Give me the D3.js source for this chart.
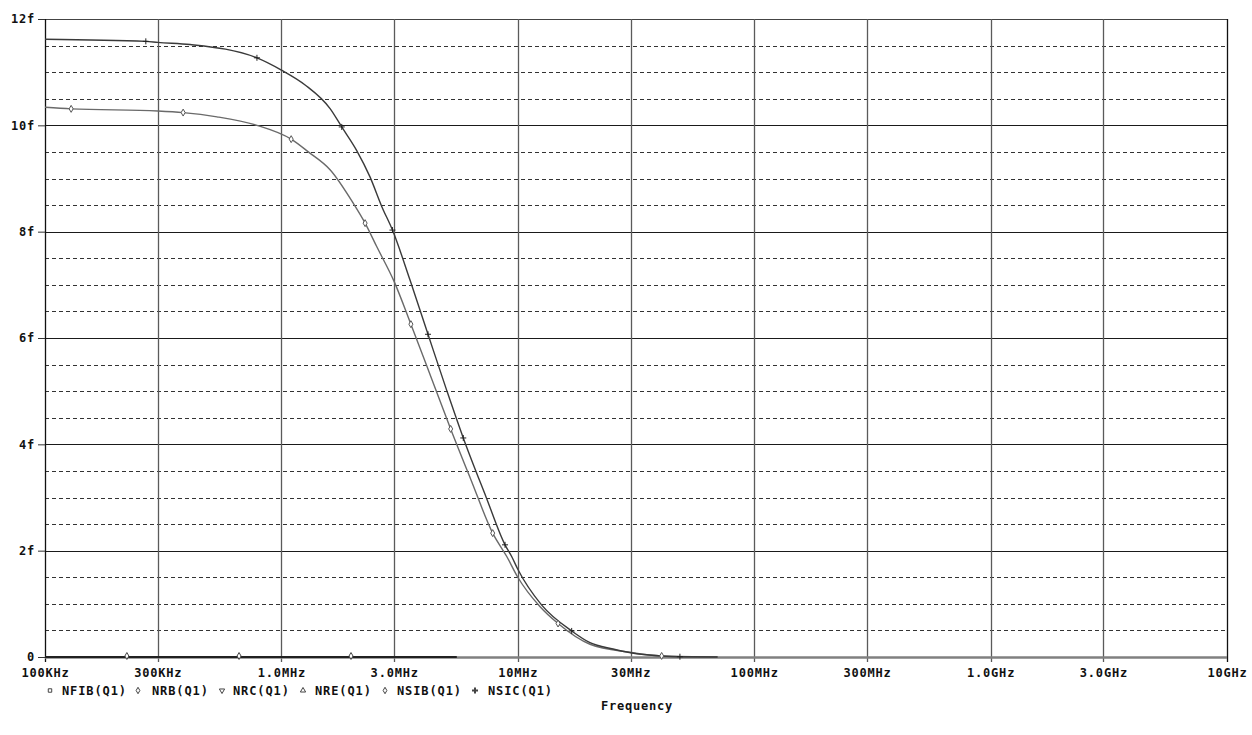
<!DOCTYPE html>
<html>
<head>
<meta charset="utf-8">
<script src="https://cdn.jsdelivr.net/npm/d3@7"></script>
<style>
  body { margin: 0; background: #fff; }
  text { font-family: "DejaVu Sans Mono", "Liberation Mono", monospace; font-weight: bold; fill: #111; }
</style>
</head>
<body>
<div id="chart"></div>
<script>
// axis ticks and labels
let xTicks = [1e5, 3e5, 1e6, 3e6, 1e7, 3e7, 1e8, 3e8, 1e9, 3e9, 1e10];
let xTickLabels = ["100KHz", "300KHz", "1.0MHz", "3.0MHz", "10MHz", "30MHz", "100MHz", "300MHz", "1.0GHz", "3.0GHz", "10GHz"];
let yTicks = [0, 2, 4, 6, 8, 10, 12];
let yTickLabels = ["0", "2f", "4f", "6f", "8f", "10f", "12f"];
let yMinorTicks = [0.5, 1, 1.5, 2.5, 3, 3.5, 4.5, 5, 5.5, 6.5, 7, 7.5, 8.5, 9, 9.5, 10.5, 11, 11.5];

// NSIC(Q1) trace (values in f)
let nsicFreq = [1e5, 2.67e5, 3e5, 4.11e5, 7.88e5, 1e6, 1.26e6, 1.61e6, 1.80e6, 2.08e6, 2.37e6, 2.66e6, 2.95e6, 3.5e6, 4.17e6,
  5.0e6, 5.88e6, 7.34e6, 8.83e6, 9.42e6, 1e7, 1.26e7, 1.69e7, 2.02e7, 2.53e7, 3e7, 4.06e7, 4.85e7, 7e7];
let nsicValues = [11.62, 11.58, 11.56, 11.52, 11.27, 11.04, 10.76, 10.31, 9.97, 9.53, 9.03, 8.47, 8.03, 7.09, 6.07,
  5.02, 4.12, 3.01, 2.11, 1.89, 1.65, 0.98, 0.49, 0.27, 0.15, 0.08, 0.02, 0.005, 0];
let nsicMarks = [1, 4, 8, 12, 14, 16, 18, 22, 27];

// NSIB(Q1) trace
let nsibFreq = [1e5, 1.29e5, 3e5, 3.84e5, 5.34e5, 7.88e5, 1.10e6, 1.30e6, 1.61e6, 2.01e6, 2.26e6, 2.53e6, 3e6, 3.53e6,
  4.34e6, 5.20e6, 6.34e6, 7.83e6, 8.98e6, 1e7, 1.24e7, 1.48e7, 2.02e7, 2.98e7, 4.06e7, 7e7];
let nsibValues = [10.34, 10.31, 10.27, 10.24, 10.16, 10.0, 9.74, 9.50, 9.16, 8.54, 8.16, 7.72, 7.06, 6.26,
  5.21, 4.29, 3.33, 2.33, 1.89, 1.50, 0.95, 0.63, 0.24, 0.09, 0.02, 0];
let nsibMarks = [1, 3, 6, 10, 13, 15, 17, 21, 24];

// the four traces sitting on zero
let zeroFreq = [1e5, 2.22e5, 6.62e5, 1.97e6, 5.5e6];
let nfibValues = [0, 0, 0, 0, 0];
let nrbValues = [0, 0, 0, 0, 0];
let nrcValues = [0, 0, 0, 0, 0];
let nreValues = [0, 0, 0, 0, 0];
let zeroMarks = [1, 2, 3];

let legendNames = ["NFIB(Q1)", "NRB(Q1)", "NRC(Q1)", "NRE(Q1)", "NSIB(Q1)", "NSIC(Q1)"];

// overall size
let svgWidth = 1252;
let svgHeight = 735;
let margin = { top: 19, right: 25, bottom: 78, left: 45 };
let width = svgWidth - margin.left - margin.right;
let height = svgHeight - margin.top - margin.bottom;

let svg = d3.select("#chart")
  .append("svg")
  .attr("width", svgWidth)
  .attr("height", svgHeight);

let chartGroup = svg.append("g")
  .attr("transform", `translate(${margin.left}, ${margin.top})`);

let xScale = d3.scaleLog().domain([1e5, 1e10]).range([0, width]);
let yScale = d3.scaleLinear().domain([0, 12]).range([height, 0]);

// dashed minor grid
chartGroup.selectAll(".minor")
  .data(yMinorTicks)
  .enter()
  .append("line")
  .attr("x1", 0).attr("x2", width)
  .attr("y1", d => Math.round(yScale(d)) + 0.5)
  .attr("y2", d => Math.round(yScale(d)) + 0.5)
  .attr("stroke", "#333")
  .attr("stroke-dasharray", "4,3");

// solid horizontal grid
chartGroup.selectAll(".hmajor")
  .data(yTicks)
  .enter()
  .append("line")
  .attr("x1", 0).attr("x2", width)
  .attr("y1", d => Math.round(yScale(d)) + 0.5)
  .attr("y2", d => Math.round(yScale(d)) + 0.5)
  .attr("stroke", (d, i) => i == yTicks.length - 1 ? "#444" : "#1a1a1a")
  .attr("stroke-width", 1.2);

// vertical grid
chartGroup.selectAll(".vmajor")
  .data(xTicks)
  .enter()
  .append("line")
  .attr("x1", d => Math.round(xScale(d)) + 0.5)
  .attr("x2", d => Math.round(xScale(d)) + 0.5)
  .attr("y1", 0).attr("y2", height + 5)
  .attr("stroke", (d, i) => (i == 0 || i == xTicks.length - 1) ? "#111" : "#5a5a5a")
  .attr("stroke-width", 1.3);

// bottom axis line
chartGroup.append("line")
  .attr("x1", 0).attr("x2", width)
  .attr("y1", height + 0.5).attr("y2", height + 0.5)
  .attr("stroke", "#808080")
  .attr("stroke-width", 2.5);

// x tick labels
let bottomAxis = d3.axisBottom(xScale)
  .tickValues(xTicks)
  .tickFormat((d, i) => xTickLabels[i])
  .tickSize(0)
  .tickPadding(11);
let xAxis = chartGroup.append("g")
  .attr("transform", `translate(0,${height})`)
  .call(bottomAxis);
xAxis.select(".domain").remove();
xAxis.selectAll("text")
  .attr("font-size", "12px")
  .attr("letter-spacing", "0.8px")
  .attr("font-family", "DejaVu Sans Mono")
  .attr("font-weight", "bold")
  .attr("fill", "#111");

// y tick labels
let leftAxis = d3.axisLeft(yScale)
  .tickValues(yTicks)
  .tickFormat((d, i) => yTickLabels[i])
  .tickSize(7)
  .tickPadding(3);
let yAxis = chartGroup.append("g").call(leftAxis);
yAxis.select(".domain").remove();
yAxis.selectAll("line").attr("stroke", "#333");
yAxis.selectAll("text")
  .attr("font-size", "12px")
  .attr("letter-spacing", "0.8px")
  .attr("font-family", "DejaVu Sans Mono")
  .attr("font-weight", "bold")
  .attr("fill", "#111");

// traces
let line = d3.line()
  .x(d => xScale(d[0]))
  .y(d => yScale(d[1]))
  .curve(d3.curveMonotoneX);

let traces = [
  { freq: zeroFreq, values: nfibValues, color: "#222" },
  { freq: zeroFreq, values: nrbValues, color: "#222" },
  { freq: zeroFreq, values: nrcValues, color: "#222" },
  { freq: zeroFreq, values: nreValues, color: "#222" },
  { freq: nsibFreq, values: nsibValues, color: "#6a6a6a" },
  { freq: nsicFreq, values: nsicValues, color: "#3a3a3a" }
];

traces.forEach(function(t) {
  chartGroup.append("path")
    .datum(d3.zip(t.freq, t.values))
    .attr("d", line)
    .attr("fill", "none")
    .attr("stroke", t.color)
    .attr("stroke-width", 1.4);
});

// trace markers
let diamond = d3.symbol().type(d3.symbolDiamond).size(14);

chartGroup.selectAll(".zmark")
  .data(zeroMarks)
  .enter()
  .append("path")
  .attr("d", diamond)
  .attr("transform", i => `translate(${xScale(zeroFreq[i])},${yScale(nrbValues[i]) - 1})`)
  .attr("fill", "#fff")
  .attr("stroke", "#444");

chartGroup.selectAll(".ibmark")
  .data(nsibMarks)
  .enter()
  .append("path")
  .attr("d", diamond)
  .attr("transform", i => `translate(${xScale(nsibFreq[i])},${yScale(nsibValues[i])})`)
  .attr("fill", "#fff")
  .attr("stroke", "#555");

// "+" markers on NSIC
let icMarks = chartGroup.selectAll(".icmark")
  .data(nsicMarks)
  .enter()
  .append("g")
  .attr("transform", i => `translate(${xScale(nsicFreq[i])},${yScale(nsicValues[i])})`);
icMarks.append("line")
  .attr("x1", 0).attr("x2", 0).attr("y1", -3).attr("y2", 3)
  .attr("stroke", "#222");
icMarks.append("line")
  .attr("x1", -3).attr("x2", 3).attr("y1", 0).attr("y2", 0)
  .attr("stroke", "#222");

// legend
let legendY = 690.5;
let legendStart = [62, 152, 233, 315, 397, 488];
let legendSymX = [50, 138, 222, 303, 385, 475];
let legendSymbols = [d3.symbolSquare, d3.symbolDiamond, d3.symbolTriangle, d3.symbolTriangle, d3.symbolDiamond, d3.symbolCross];
let legendGroup = svg.append("g");

legendNames.forEach(function(name, i) {
  legendGroup.append("path")
    .attr("d", d3.symbol().type(legendSymbols[i]).size(i == 5 ? 20 : 12)())
    .attr("fill", i == 5 ? "#444" : "none")
    .attr("stroke", i == 5 ? "none" : "#444")
    .attr("transform", `translate(${legendSymX[i]},${legendY}) rotate(${i == 2 ? 180 : 0})`);
  legendGroup.append("text")
    .attr("x", legendStart[i])
    .attr("y", legendY + 4.5)
    .attr("font-size", "12px")
    .attr("letter-spacing", "0.9px")
    .text(name);
});

// x axis title
svg.append("text")
  .attr("x", 637)
  .attr("y", 710)
  .attr("text-anchor", "middle")
  .attr("font-size", "12px")
  .attr("letter-spacing", "0.8px")
  .text("Frequency");
</script>
</body>
</html>
